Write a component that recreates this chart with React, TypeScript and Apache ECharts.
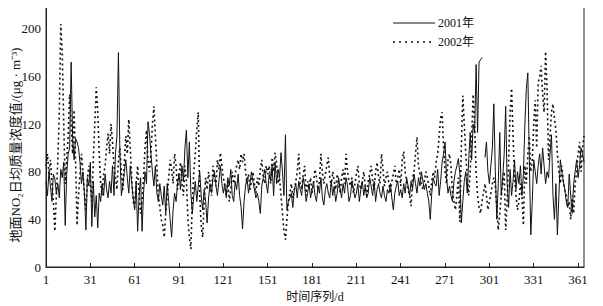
import React, { useEffect, useRef } from "react";
import * as echarts from "echarts";

const xTickLabels = ["1", "31", "61", "91", "121", "151", "181", "211", "241", "271", "301", "331", "361"];
const seriesNames = ["2001年", "2002年"];
const yAxisTitle = "地面NO₂日均质量浓度值/(μg · m⁻³)";
const xAxisTitle = "时间序列/d";

const values2001: (number | null)[] = [
  72, 60, 80, 68, 55, 78, 74, 62, 70, 58,
  82, 75, 88, 35, 78, 95, 100, 172, 110, 90,
  108, 105, 100, 88, 70, 80, 62, 31, 75, 68,
  88, 34, 72, 42, 60, 33, 62, 55, 70, 60,
  78, 65, 58, 72, 62, 85, 60, 95, 110, 180,
  95, 60, 68, 80, 90, 75, 62, 85, 70, 58,
  48, 72, 30, 60, 75, 30, 62, 80, 70, 122,
  112, 95, 80, 68, 85, 62, 55, 70, 60, 52,
  68, 45, 70, 55, 40, 25, 48, 62, 55, 70,
  78, 65, 85, 72, 100, 115, 75, 105, 62, 45,
  60, 72, 55, 68, 80, 60, 48, 65, 55, 37,
  58, 70, 62, 75, 80, 68, 60, 72, 85, 70,
  62, 70, 58, 75, 68, 82, 60, 55, 72, 65,
  78, 60, 50, 32, 55, 68, 75, 62, 70, 80,
  72, 65, 58, 62, 55, 45, 68, 75, 82, 70,
  62, 78, 72, 85, 60, 88, 70, 82, 75, 96,
  80, 60, 111, 48, 55, 58, 62, 50, 65, 70,
  58, 72, 65, 60, 75, 68, 55, 62, 70, 58,
  65, 72, 60, 55, 68, 62, 75, 58, 52, 65,
  70, 62, 58, 72, 60, 68, 55, 62, 75, 65,
  58, 70, 62, 75, 68, 55, 60, 72, 65, 58,
  62, 70, 55, 65, 72, 60, 68, 58, 62, 75,
  68, 60, 72, 55, 65, 70, 62, 58, 68, 60,
  55, 65, 62, 70, 58, 48, 62, 68, 72, 60,
  65, 58, 70, 62, 75, 68, 60, 72, 65, 78,
  70, 62, 75, 68, 80, 72, 65, 70, 62, 55,
  40, 62, 75, 70, 68, 82, 60, 72, 88, 95,
  105, 75, 62, 68, 60, 55, 72, 80, 85, 91,
  78, 37, 55, 72, 80, 62, 90, 113, 90, 120,
  113, 170, 113, 172, 174, 176, null, 92, 105, 80,
  70, 85, 100, 137, 80, 40, 70, 113, 60, 75,
  95, 135, 70, 50, 82, 60, 72, 90, 65, 80,
  70, 85, 60, 78, 120, 150, 163, 90, 27, 55,
  90, 80, 70, 85, 95, 78, 100, 85, 70, 80,
  75, 95, 111, 60, 40, 70, 27, 60, 90, 80,
  72, 65, 55, 50, 78, 60, 45, 70, 80, 90,
  75, 85, 100, 95, 88,
];

const values2002: (number | null)[] = [
  85, 95, 78, 90, 70, 55, 30, 60, 90, 130,
  204, 180, 120, 70, 90, 110, 145, 120, 95, 132,
  90, 35, 60, 78, 95, 80, 60, 48, 75, 85,
  70, 55, 90, 120, 151, 130, 95, 70, 60, 78,
  85, 100, 112, 95, 120, 105, 85, 75, 65, 90,
  100, 80, 65, 88, 110, 95, 124, 100, 75, 55,
  50, 70, 85, 60, 45, 55, 75, 100, 115, 90,
  80, 95, 120, 135, 110, 85, 60, 50, 40, 35,
  25, 45, 60, 75, 90, 82, 70, 95, 85, 65,
  78, 88, 70, 60, 85, 72, 40, 25, 15, 55,
  80, 95, 115, 130, 60, 35, 25, 55, 75, 65,
  80, 70, 60, 85, 75, 68, 90, 82, 96, 85,
  75, 68, 60, 72, 55, 65, 80, 70, 78, 85,
  90, 82, 95, 88, 95, 80, 70, 78, 65, 72,
  80, 70, 62, 75, 68, 82, 90, 75, 70, 85,
  78, 85, 70, 92, 80, 96, 88, 70, 75, 60,
  45, 30, 23, 40, 55, 62, 70, 58, 65, 72,
  80, 95, 70, 65, 78, 85, 60, 72, 68, 75,
  62, 70, 82, 75, 65, 72, 95, 80, 70, 78,
  85, 92, 75, 68, 80, 72, 65, 78, 70, 62,
  75, 82, 70, 95, 80, 72, 68, 75, 62, 70,
  78, 85, 70, 65, 72, 80, 68, 60, 72, 78,
  85, 72, 65, 80, 88, 75, 70, 95, 82, 68,
  75, 80, 70, 62, 72, 78, 85, 70, 75, 82,
  68, 90, 97, 80, 72, 65, 60, 51, 75, 80,
  95, 109, 85, 78, 70, 65, 72, 80, 75, 68,
  60, 72, 80, 75, 88, 95, 110, 125, 130, 100,
  80, 70, 90, 95, 85, 62, 55, 48, 60, 75,
  38, 100, 144, 120, 95, 75, 60, 80, 110, 145,
  120, 80, 60, 50, 45, 55, 62, 70, 60, 48,
  55, 62, 70, 75, 68, 50, 31, 45, 60, 70,
  80, 31, 55, 90, 130, 150, 110, 75, 60, 48,
  55, 70, 60, 35, 85, 70, 95, 110, 80, 90,
  120, 140, 100, 155, 160, 169, 145, 130, 181, 150,
  90, 110, 130, 137, 125, 115, 95, 80, 70, 85,
  72, 65, 60, 50, 55, 40, 60, 45, 70, 80,
  95, 105, 80, 100, 110,
];

const FONT = "'Liberation Serif', 'Noto Sans CJK SC', serif";

export default function App() {
  const ref = useRef<HTMLDivElement>(null);
  useEffect(() => {
    if (!ref.current) return;
    const chart = echarts.init(ref.current, null, { renderer: "svg" });
    const d1 = values2001.map((v, i) => [i, v]);
    const d2 = values2002.map((v, i) => [i, v]);
    chart.setOption({
      animation: false,
      backgroundColor: "#ffffff",
      textStyle: { fontFamily: FONT, color: "#111" },
      grid: {
        left: 46,
        top: 5,
        right: 19,
        bottom: 39,
        show: true,
        borderColor: "#222",
        borderWidth: 1,
        outerBoundsMode: "none",
        containLabel: false,
      },
      graphic: [
        {
          type: "text",
          x: 15,
          y: 145,
          rotation: Math.PI / 2,
          style: {
            text: yAxisTitle,
            fontFamily: FONT,
            fontSize: 13,
            fill: "#111",
            align: "center",
            verticalAlign: "middle",
          },
        },
        {
          type: "line",
          shape: { x1: 393, y1: 23, x2: 435, y2: 23 },
          style: { stroke: "#111", lineWidth: 1 },
        },
        {
          type: "text",
          x: 438,
          y: 23,
          style: { text: seriesNames[0], fontFamily: FONT, fontSize: 12, fill: "#111", verticalAlign: "middle" },
        },
        {
          type: "line",
          shape: { x1: 393, y1: 42, x2: 435, y2: 42 },
          style: { stroke: "#111", lineWidth: 1.6, lineDash: [2, 4] },
        },
        {
          type: "text",
          x: 438,
          y: 42,
          style: { text: seriesNames[1], fontFamily: FONT, fontSize: 12, fill: "#111", verticalAlign: "middle" },
        },
      ],
      xAxis: {
        type: "value",
        min: 0,
        max: 364,
        interval: 30,
        name: xAxisTitle,
        nameLocation: "middle",
        nameGap: 24,
        nameTextStyle: { fontFamily: FONT, fontSize: 12, color: "#111" },
        axisLine: { lineStyle: { color: "#222", width: 1 } },
        axisTick: { inside: true, length: 4, lineStyle: { color: "#222" } },
        splitLine: { show: false },
        axisLabel: {
          fontFamily: FONT,
          fontSize: 13,
          color: "#111",
          margin: 6,
          showMaxLabel: false,
          formatter: (v: number) => {
            const idx = Math.round(v / 30);
            return v % 30 === 0 && idx < xTickLabels.length ? xTickLabels[idx] : "";
          },
        },
      },
      yAxis: {
        type: "value",
        min: 0,
        max: 220,
        interval: 40,
        axisLine: { show: true, lineStyle: { color: "#222", width: 1 } },
        axisTick: { show: false },
        splitLine: { show: false },
        axisLabel: {
          fontFamily: FONT,
          fontSize: 13,
          color: "#111",
          margin: 5,
          showMaxLabel: false,
        },
      },
      series: [
        {
          name: seriesNames[0],
          type: "line",
          data: d1,
          symbol: "none",
          connectNulls: false,
          lineStyle: { color: "#111", width: 1 },
          itemStyle: { color: "#111" },
        },
        {
          name: seriesNames[1],
          type: "line",
          data: d2,
          symbol: "none",
          lineStyle: { color: "#111", width: 1.6, type: [2, 3] },
          itemStyle: { color: "#111" },
        },
      ],
    });
    return () => chart.dispose();
  }, []);
  return <div ref={ref} style={{ width: 603, height: 306, marginLeft: -8, marginTop: -8 }} />;
}
